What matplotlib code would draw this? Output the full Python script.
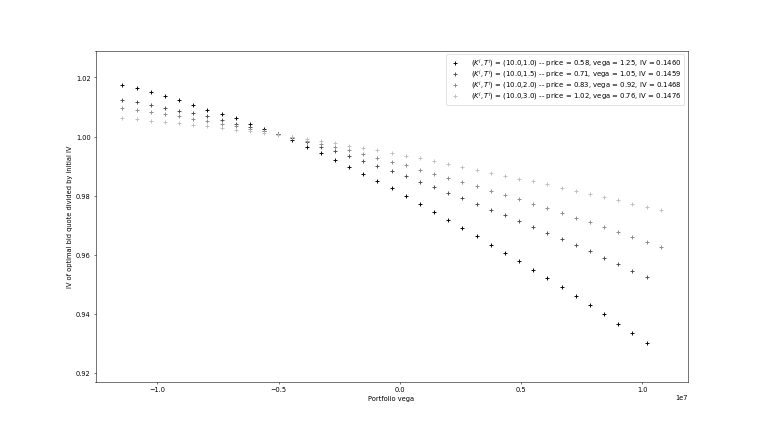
import matplotlib
matplotlib.use("Agg")
import matplotlib.pyplot as plt

# portfolio vega grid (units of 1e7)
vega_grid = [-1.1440, -1.0856, -1.0272, -0.9687, -0.9103, -0.8519, -0.7935, -0.7351,
             -0.6766, -0.6182, -0.5598, -0.5014, -0.4430, -0.3845, -0.3261, -0.2677,
             -0.2093, -0.1509, -0.0924, -0.0340, 0.0244, 0.0828, 0.1412, 0.1997,
             0.2581, 0.3165, 0.3749, 0.4333, 0.4918, 0.5502, 0.6086, 0.6670,
             0.7254, 0.7839, 0.8423, 0.9007, 0.9591, 1.0175, 1.0760]

iv_t10 = [1.0176, 1.0165, 1.0152, 1.0137, 1.0122, 1.0107, 1.0091, 1.0077, 1.0061, 1.0044,
          1.0027, 1.0008, 0.9988, 0.9966, 0.9944, 0.9922, 0.9898, 0.9874, 0.9850, 0.9825,
          0.9799, 0.9772, 0.9745, 0.9718, 0.9690, 0.9662, 0.9634, 0.9606, 0.9578, 0.9549,
          0.9520, 0.9489, 0.9460, 0.9429, 0.9398, 0.9367, 0.9335, 0.9302]
iv_t15 = [1.0125, 1.0116, 1.0106, 1.0097, 1.0088, 1.0078, 1.0068, 1.0056, 1.0044, 1.0032,
          1.0020, 1.0007, 0.9994, 0.9981, 0.9966, 0.9951, 0.9935, 0.9918, 0.9901, 0.9884,
          0.9867, 0.9847, 0.9829, 0.9810, 0.9792, 0.9772, 0.9752, 0.9733, 0.9714, 0.9693,
          0.9673, 0.9652, 0.9632, 0.9611, 0.9589, 0.9567, 0.9546, 0.9523]
iv_t20 = [1.0096, 1.0089, 1.0082, 1.0075, 1.0068, 1.0060, 1.0052, 1.0044, 1.0035, 1.0026,
          1.0017, 1.0007, 0.9997, 0.9986, 0.9975, 0.9964, 0.9953, 0.9941, 0.9928, 0.9914,
          0.9902, 0.9888, 0.9874, 0.9860, 0.9845, 0.9832, 0.9817, 0.9802, 0.9787, 0.9772,
          0.9757, 0.9741, 0.9725, 0.9709, 0.9693, 0.9677, 0.9660, 0.9643, 0.9626]
iv_t30 = [1.0063, 1.0059, 1.0054, 1.0050, 1.0045, 1.0040, 1.0035, 1.0029, 1.0023, 1.0017,
          1.0011, 1.0005, 0.9998, 0.9992, 0.9984, 0.9977, 0.9969, 0.9961, 0.9953, 0.9944,
          0.9935, 0.9926, 0.9916, 0.9907, 0.9897, 0.9887, 0.9878, 0.9868, 0.9857, 0.9848,
          0.9838, 0.9827, 0.9816, 0.9805, 0.9794, 0.9784, 0.9773, 0.9762, 0.9750]

labels = [
    r"$(K^i,T^i)$ = (10.0,1.0) -- price = 0.58, vega = 1.25, IV = 0.1460",
    r"$(K^i,T^i)$ = (10.0,1.5) -- price = 0.71, vega = 1.05, IV = 0.1459",
    r"$(K^i,T^i)$ = (10.0,2.0) -- price = 0.83, vega = 0.92, IV = 0.1468",
    r"$(K^i,T^i)$ = (10.0,3.0) -- price = 1.02, vega = 0.76, IV = 0.1476",
]
series = [iv_t10, iv_t15, iv_t20, iv_t30]
colors = ["0.0", "0.3", "0.55", "0.75"]

fig, ax = plt.subplots(figsize=(16, 9), dpi=47.75)
for ys, lab, c in zip(series, labels, colors):
    xs = [v * 1e7 for v in vega_grid[:len(ys)]]
    ax.scatter(xs, ys, marker="+", color=c, label=lab, s=45, linewidths=1.4)

ax.set_ylim(0.917, 1.029)
ax.set_xlabel("Portfolio vega")
ax.set_ylabel("IV of optimal bid quote divided by initial IV")
ax.legend(loc="upper right", fontsize=10.3, labelspacing=-0.2, handletextpad=1.3)
fig.savefig("out.png", dpi=47.75)
